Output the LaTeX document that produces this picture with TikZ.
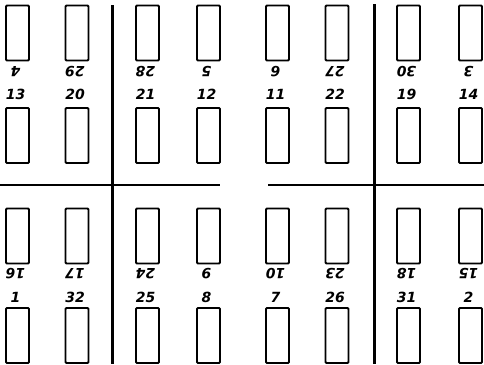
\documentclass[tikz,border=0pt]{standalone}
\usepackage{fontspec}
\setsansfont{DejaVu Sans}
\usetikzlibrary{positioning,calc}

\begin{document}
\begin{tikzpicture}[x=1pt,y=-1pt,
  pg/.style={draw=black,line width=1.8pt,rounded corners=1pt,inner sep=0pt,
             minimum width=23pt,minimum height=55pt},
  num/.style={font=\sffamily\bfseries\itshape\fontsize{14}{14}\selectfont,inner sep=0pt},
  inv/.style={num,rotate=180},
  rule/.style={black,line width=3pt},
  fold/.style={black,line width=2.4pt}]
\useasboundingbox (0,0) rectangle (484,364);
% pages: column x / top row / second row / third row / bottom row
\foreach \x/\a/\b/\c/\d in {17.5/4/13/16/1, 77/29/20/17/32, 147.5/28/21/24/25,
    208.5/5/12/9/8, 277.5/6/11/10/7, 337/27/22/23/26, 408.5/30/19/18/31, 470.5/3/14/15/2}{
  \node[pg] (p\a) at (\x,33) {};
  \node[inv] (l\a) at ([xshift=-2pt,yshift=-10.5pt]p\a.south) {\a};
  \node[pg] (p\b) at (\x,135.5) {};
  \node[num] (l\b) at ([xshift=-2pt,yshift=13pt]p\b.north) {\b};
  \node[pg] (p\c) at (\x,236) {};
  \node[inv] (l\c) at ([xshift=-2pt,yshift=-9.5pt]p\c.south) {\c};
  \node[pg] (p\d) at (\x,335.5) {};
  \node[num] (l\d) at ([xshift=-2pt,yshift=10pt]p\d.north) {\d};
}
% cutting rules
\draw[rule] (112,5) -- (112,364);
\draw[rule] (374,4) -- (374,364);
\draw[fold] (0,185) -- (220,185);
\draw[fold] (268,185) -- (484,185);
\end{tikzpicture}
\end{document}
